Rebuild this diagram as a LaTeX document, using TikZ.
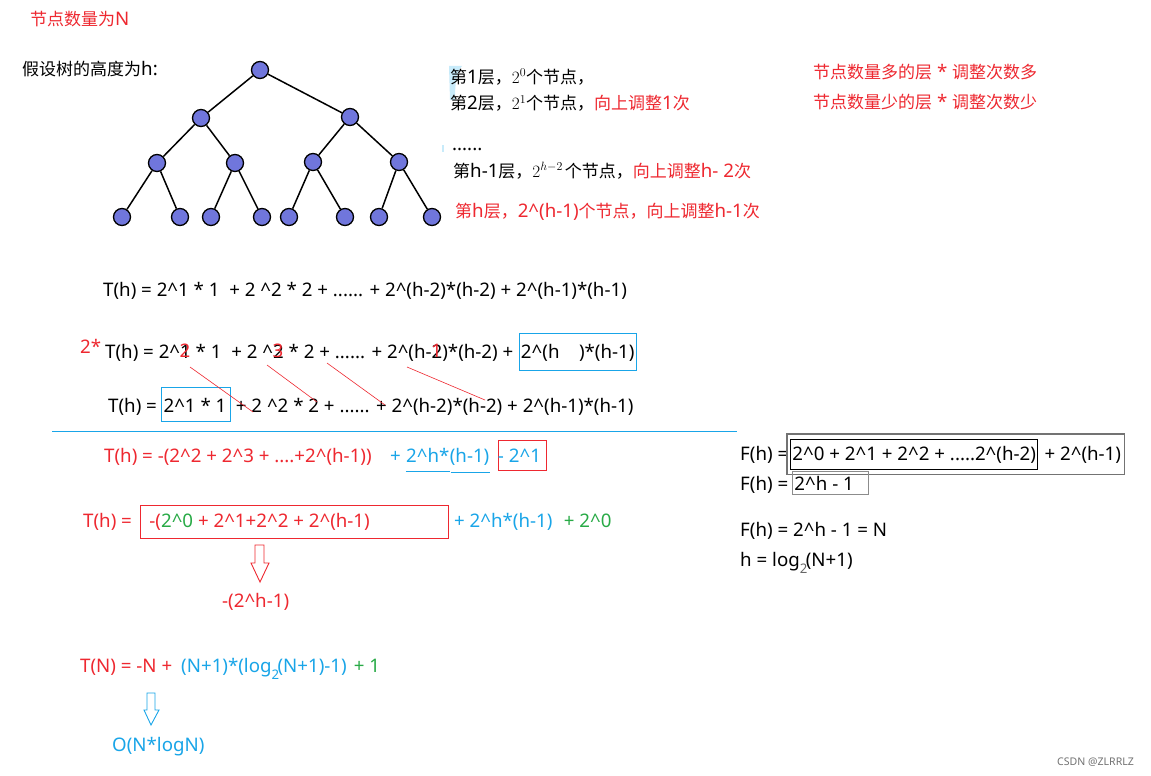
\documentclass[tikz,border=0pt]{standalone}
\usepackage[no-math]{fontspec}
\setmainfont{Noto Sans}[Scale=1.1]
\newfontfamily\cjk{Noto Sans CJK SC}
\usetikzlibrary{fit,calc}
\definecolor{myred}{RGB}{238,40,48}
\definecolor{myblue}{RGB}{25,165,232}
\definecolor{mygreen}{RGB}{40,170,70}
\definecolor{nodefill}{RGB}{112,118,220}
\definecolor{lightcy}{RGB}{200,235,250}
\newcommand\crt{\textasciicircum}
\newcommand\zh[1]{{\cjk #1}}
\newcommand\ov[1]{\llap{\raisebox{1pt}{\textcolor{myred}{#1}}\kern0.5pt}}
\newcommand\lsub[1]{\rlap{\raisebox{-7pt}{\fontsize{12}{12}\selectfont\textcolor{#1}{2}}}\kern6pt}
\begin{document}
\begin{tikzpicture}[x=1pt,y=-1pt,
  tn/.style={circle,draw=black,line width=1.3pt,fill=nodefill,minimum size=17pt,inner sep=0pt},
  te/.style={line width=1.5pt},
  tx/.style={anchor=base west,inner sep=0pt,font=\fontsize{17}{20}\selectfont},
  bluebox/.style={draw=myblue,line width=0.9pt,inner xsep=2pt},
  redline/.style={myred,line width=0.6pt},
  hollow/.style={line width=0.9pt,fill=white}]
\fill[white] (0,0) rectangle (1151,776);
\useasboundingbox (0,0) rectangle (1151,776);

% faint selection marks
\fill[lightcy] (449,66) -- (462,66) .. controls (456,72) and (455,85) .. (455,100) -- (450,100) -- cycle;
\fill[lightcy] (442,145) rectangle (444,152);

% tree
\node[tn] (r) at (260,70) {};
\node[tn] (a) at (201,118) {};
\node[tn] (b) at (350,117) {};
\node[tn] (c1) at (157,163) {};
\node[tn] (c2) at (235,163) {};
\node[tn] (c3) at (313,162) {};
\node[tn] (c4) at (399,162) {};
\node[tn] (l1) at (122,217) {};
\node[tn] (l2) at (180,217) {};
\node[tn] (l3) at (211,217) {};
\node[tn] (l4) at (262,217) {};
\node[tn] (l5) at (289,217) {};
\node[tn] (l6) at (345,217) {};
\node[tn] (l7) at (379,217) {};
\node[tn] (l8) at (432,217) {};
\draw[te] (r)--(a); \draw[te] (r)--(b);
\draw[te] (a)--(c1); \draw[te] (a)--(c2);
\draw[te] (b)--(c3); \draw[te] (b)--(c4);
\draw[te] (c1)--(l1); \draw[te] (c1)--(l2);
\draw[te] (c2)--(l3); \draw[te] (c2)--(l4);
\draw[te] (c3)--(l5); \draw[te] (c3)--(l6);
\draw[te] (c4)--(l7); \draw[te] (c4)--(l8);

% texts top
\node[tx,myred] (title) at (30,26) {\zh{节点数量为}N};
\node[tx] (hlabel) at (22,76) {\zh{假设树的高度为}h:};
\node[tx] (lv1) at (450,83) {\zh{第}1\zh{层，}$2^0$\zh{个节点，}};
\node[tx] (lv2) at (450,110) {\zh{第}2\zh{层，}$2^1$\zh{个节点，}\textcolor{myred}{\zh{向上调整}1\zh{次}}};
\node[tx] (dots) at (452,150) {......};
\node[tx] (lv3) at (453,177) {\zh{第}h-1\zh{层，}$2^{h-2}$\kern2pt\zh{个节点，}\textcolor{myred}{\zh{向上调整}h- 2\zh{次}}};
\node[tx,myred] (lv4) at (455,217) {\zh{第}h\zh{层，}2\crt(h-1)\zh{个节点，向上调整}h-1\zh{次}};
\node[tx,myred] (note1) at (813,78) {\zh{节点数量多的层} * \zh{调整次数多}};
\node[tx,myred] (note2) at (813,108) {\zh{节点数量少的层} * \zh{调整次数少}};

% equation 1
\node[tx] (e1) at (103,296) {T(h) = 2\crt1 * 1\ \ + 2 \crt2 * 2 + ...... + 2\crt(h-2)*(h-2) + 2\crt(h-1)*(h-1)};

% equation 2
\node[tx,myred] (two) at (80,353) {2*};
\node[tx] (e2a) at (105,358) {T(h) = 2\crt1\ov{2} * 1\ \ + 2 \crt2\ov{3} * 2 + ...... + 2\crt(h-2\ov{1})*(h-2) +\kern5pt};
\node[tx,bluebox,minimum height=37pt] (e2b) at (e2a.base east) {2\crt(h\ \ \ \ )*(h-1)};

% equation 3
\node[tx] (e3a) at (108,412) {T(h) =\kern4pt};
\node[tx,bluebox,minimum height=34pt] (e3b) at (e3a.base east) {2\crt1 * 1\kern2pt};
\node[tx] (e3c) at (e3b.base east) {\ + 2 \crt2 * 2 + ...... + 2\crt(h-2)*(h-2) + 2\crt(h-1)*(h-1)};

% red shift lines
\draw[redline] (190,367) -- (253,412);
\draw[redline] (267,365) -- (317,402);
\draw[redline] (327,363) -- (385,405);
\draw[redline] (407,367) -- (485,400);

% separator
\draw[myblue,line width=0.9pt] (52,431) -- (737,431);

% equation 4
\node[tx,myred] (e4a) at (104,462) {T(h) = -(2\crt2 + 2\crt3 + ....+2\crt(h-1))\kern18pt};
\node[tx,myblue] (e4b) at (e4a.base east) {+\kern5pt};
\node[tx,myblue] (e4c) at (e4b.base east) {2\crt h*};
\node[tx,myblue] (e4d) at (e4c.base east) {(h-1)};
\node[tx,myblue,draw=myred,line width=0.9pt,inner xsep=0pt,minimum height=30pt] (e4e) at ($(e4d.base east)+(8,0)$) {- 2\crt1\kern5pt};
\draw[myblue,line width=0.8pt] ($(e4c.base west)+(0,9)$) -- ($(e4c.base east)+(0,9)$);
\draw[myblue,line width=0.8pt] ($(e4d.base west)+(1,10)$) -- ($(e4d.base east)+(0,10)$);

% equation 5
\node[tx,myred] (e5a) at (83,527) {T(h) =};
\node[tx,myred,draw=myred,line width=0.9pt,anchor=west,inner xsep=9pt,minimum height=33pt] (e5b) at (140,521.5) {\makebox[290pt][l]{-(\textcolor{mygreen}{2\crt0} + 2\crt1+2\crt2 + 2\crt(h-1)}};
\node[tx,myblue] (e5c) at ($(e5b.east |- e5a.base)+(5,0)$) {+ 2\crt h*(h-1)};
\node[tx,mygreen] (e5d) at ($(e5c.base east)+(11,0)$) {+ 2\crt0};

% red hollow arrow
\draw[myred,hollow] (255,545) -- (264,545) -- (264,563) -- (269,563) -- (260,582) -- (251,563) -- (255,563) -- cycle;
\node[tx,myred] (sum) at (222,607) {-(2\crt h-1)};

% T(N)
\node[tx] (tN) at (80,672) {\textcolor{myred}{T(N) = -N +}\kern9pt\textcolor{myblue}{(N+1)*(log\lsub{myblue}(N+1)-1)}\kern7pt\textcolor{mygreen}{+ 1}};

% blue hollow arrow
\draw[myblue,hollow] (147,693) -- (155,693) -- (155,710) -- (159,710) -- (151,725) -- (144,710) -- (147,710) -- cycle;
\node[tx,myblue] (onl) at (112,751) {O(N*logN)};

% F(h)
\node[tx] (f1a) at (740,460) {F(h) =};
\node[tx,draw=black,line width=0.9pt,inner xsep=2pt,minimum height=30pt] (f1b) at (790,460) {2\crt0 + 2\crt1 + 2\crt2 + .....2\crt(h-2)};
\node[tx] (f1c) at ($(f1b.base east)+(6,0)$) {+ 2\crt(h-1)};
\node[draw=black!55,line width=1.2pt,fit=(f1b)(f1c),inner xsep=3pt,inner ysep=5pt] (f1box) {};
\node[tx] (f2a) at (740,490) {F(h) =};
\node[tx,draw=black!45,line width=0.9pt,inner xsep=2pt,minimum height=23pt] (f2b) at (792,490) {\makebox[72pt][l]{2\crt h - 1}};
\node[tx] (f3) at (740,536) {F(h) = 2\crt h - 1 = N};
\node[tx] (f4) at (740,566) {h = log\lsub{black!60}(N+1)};

\node[tx,font=\fontsize{9.6}{12}\selectfont,text=black!55] (csdn) at (1057,765) {CSDN @ZLRRLZ};
\end{tikzpicture}
\end{document}
